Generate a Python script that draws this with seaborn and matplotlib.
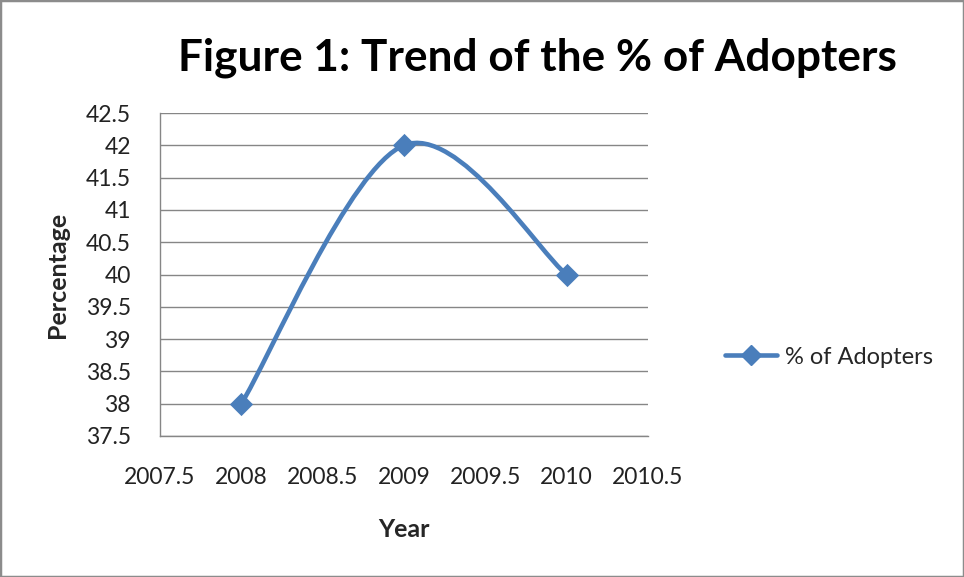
import numpy as np
import seaborn as sns
import matplotlib.pyplot as plt
from matplotlib.path import Path
from matplotlib.patches import PathPatch, Rectangle
from matplotlib.lines import Line2D

# Data
years = [2008, 2009, 2010]
adopters = [38, 42, 40]
series_name = "% of Adopters"

BLUE = "#4A7EBB"
GRID = "#868686"
FONT = "Lato"

sns.set_theme(style="white")
plt.rcParams['font.family'] = [FONT, 'DejaVu Sans']

fig = plt.figure(figsize=(9.64, 5.77), dpi=100)
ax = fig.add_axes([0.166, 0.2444, 0.506, 0.5597])

# smoothed line (Excel style bezier through the points)
pts = np.column_stack([years, adopters]).astype(float)
n = len(pts)
verts = [pts[0]]
codes = [Path.MOVETO]
for i in range(n - 1):
    p_prev = pts[i - 1] if i > 0 else pts[i]
    p_next = pts[i + 2] if i + 2 < n else pts[i + 1]
    c1 = pts[i] + (pts[i + 1] - p_prev) / 6
    c2 = pts[i + 1] - (p_next - pts[i]) / 6
    verts += [c1, c2, pts[i + 1]]
    codes += [Path.CURVE4] * 3
ax.add_patch(PathPatch(Path(verts, codes), facecolor="none", edgecolor=BLUE,
                       lw=3.3, capstyle="round", zorder=3))

sns.scatterplot(x=years, y=adopters, marker="D", s=140, color=BLUE,
                edgecolor=BLUE, linewidth=0, ax=ax, zorder=4)

ax.set_xlim(2007.5, 2010.5)
ax.set_ylim(37.5, 42.5)
xt = np.arange(2007.5, 2010.51, 0.5)
yt = np.arange(37.5, 42.51, 0.5)
ax.set_xticks(xt)
ax.set_yticks(yt)
ax.set_xticklabels([f"{v:g}" for v in xt])
ax.set_yticklabels([f"{v:g}" for v in yt])
ax.tick_params(axis="both", length=0, labelsize=16.5, colors="#222222")
ax.tick_params(axis="x", pad=22)
ax.tick_params(axis="y", pad=21)
ax.grid(axis="y", color=GRID, lw=1)
ax.set_axisbelow(True)
for s in ["top", "right"]:
    ax.spines[s].set_visible(False)
for s in ["left", "bottom"]:
    ax.spines[s].set_color(GRID)
    ax.spines[s].set_linewidth(1)

ax.set_xlabel("Year", fontsize=18, fontweight="bold", labelpad=22)
ax.set_ylabel("Percentage", fontsize=18, fontweight="bold", labelpad=12)

fig.text(0.558, 0.90, "Figure 1: Trend of the % of Adopters", ha="center",
         va="center", fontsize=31.8, fontweight="bold", color="black")

handle = Line2D([], [], color=BLUE, lw=3.3, marker="D", markersize=10)
fig.legend(handles=[handle], labels=[series_name], loc="center left",
           bbox_to_anchor=(0.752, 0.381), frameon=False, fontsize=17,
           handlelength=2.2, handletextpad=0.35, borderpad=0,
           borderaxespad=0)

fig.patches.append(Rectangle((0, 0), 1, 1, transform=fig.transFigure,
                             fill=False, edgecolor="#8c8c8c", lw=2.5))

fig.savefig("out.png", dpi=100)
